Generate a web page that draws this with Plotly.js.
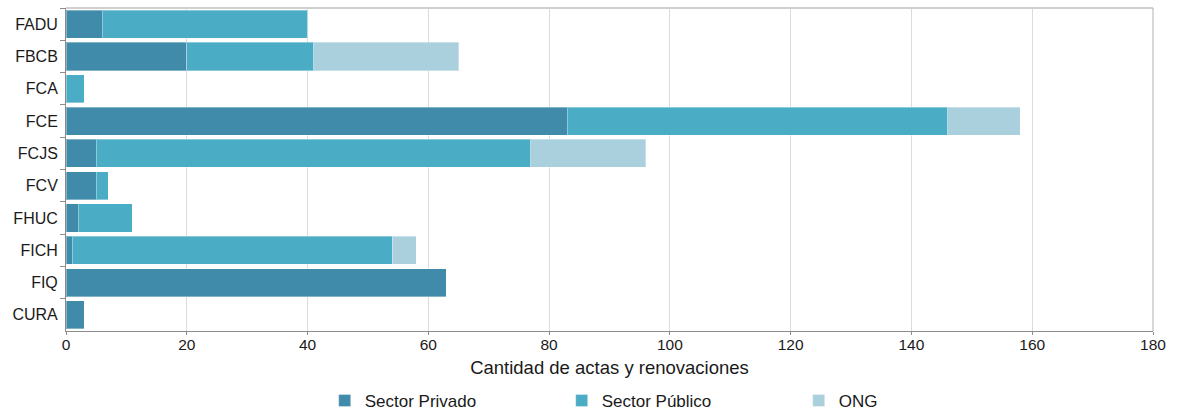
<!DOCTYPE html>
<html>
<head>
<meta charset="utf-8">
<script src="https://cdn.plot.ly/plotly-3.0.1.min.js"></script>
<style>html,body{margin:0;padding:0;background:#fff;}#chart{width:1178px;height:412px;}</style>
</head>
<body>
<div id="chart"></div>
<script>
const categories = ["FADU", "FBCB", "FCA", "FCE", "FCJS", "FCV", "FHUC", "FICH", "FIQ", "CURA"];
const sectorPrivado = [6, 20, 0, 83, 5, 5, 2, 1, 63, 3];
const sectorPublico = [34, 21, 3, 63, 72, 2, 9, 53, 0, 0];
const ong = [0, 24, 0, 12, 19, 0, 0, 4, 0, 0];
const seriesNames = ["Sector Privado", "Sector Público", "ONG"];
const xTicks = [0, 20, 40, 60, 80, 100, 120, 140, 160, 180];

const colors = ["#408AAA", "#4BACC6", "#AACFDD"];
const seriesData = [sectorPrivado, sectorPublico, ong];
const traces = seriesData.map((vals, i) => ({
  type: "bar",
  orientation: "h",
  name: seriesNames[i],
  y: categories,
  x: vals,
  marker: {color: colors[i], line: {color: "rgba(255,255,255,0.35)", width: 1}},
  hoverinfo: "x+y+name"
}));

const font = "Arial, 'Liberation Sans', sans-serif";
const layout = {
  width: 1178, height: 412,
  margin: {l: 66, r: 25, t: 8, b: 81, autoexpand: false},
  barmode: "stack",
  bargap: 0.13,
  paper_bgcolor: "#fff",
  plot_bgcolor: "#fff",
  font: {family: font, size: 15, color: "#1a1a1a"},
  xaxis: {
    range: [0, 180],
    tickvals: xTicks,
    ticktext: xTicks.map(String),
    showgrid: true, gridcolor: "#dcdcdc", gridwidth: 1,
    zeroline: false,
    showline: true, linecolor: "#8c8c8c", linewidth: 1,
    ticks: "outside", ticklen: 3, tickcolor: "#8c8c8c",
    tickfont: {size: 15.5},
    ticklabelstandoff: -4,
    title: {text: "Cantidad de actas y renovaciones", font: {size: 18.5}, standoff: 9}
  },
  yaxis: {
    type: "category",
    autorange: "reversed",
    showgrid: false,
    showline: true, linecolor: "#8c8c8c", linewidth: 1,
    ticks: "outside", ticklen: 5, tickcolor: "#8c8c8c",
    tickson: "boundaries",
    tickfont: {size: 16},
    ticklabelstandoff: 4
  },
  legend: {
    orientation: "h",
    x: 0.238, xanchor: "left",
    y: -0.161, yanchor: "top",
    entrywidth: 192, entrywidthmode: "pixels",
    font: {size: 17},
    traceorder: "normal",
    itemwidth: 30
  },
  shapes: [
    {type: "line", xref: "paper", yref: "paper", x0: 0, x1: 1, y0: 1, y1: 1, line: {color: "#d0d0d0", width: 2}},
    {type: "line", xref: "paper", yref: "paper", x0: 1, x1: 1, y0: 0, y1: 1, line: {color: "#b0b0b0", width: 1}}
  ],
  showlegend: true
};

Plotly.newPlot("chart", traces, layout, {displayModeBar: false, staticPlot: true});
</script>
</body>
</html>
